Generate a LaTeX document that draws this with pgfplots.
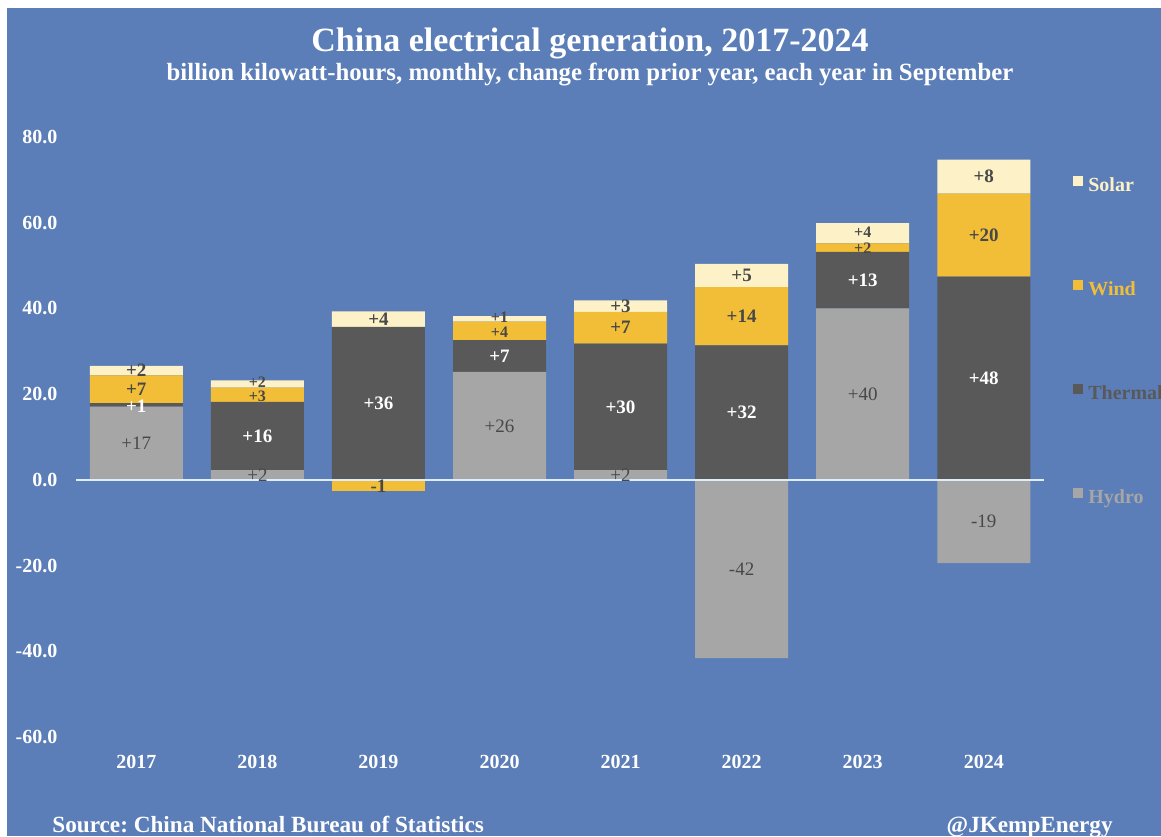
\documentclass[border=0pt]{standalone}
\usepackage{pgfplots}
\pgfplotsset{compat=1.18}
\usepackage{fontspec}
\setmainfont{Liberation Serif}
\frenchspacing
\definecolor{bg}{RGB}{91,126,184}
\definecolor{hydro}{RGB}{166,166,166}
\definecolor{thermal}{RGB}{89,89,89}
\definecolor{wind}{RGB}{243,190,55}
\definecolor{solar}{RGB}{253,241,199}
\definecolor{lbl}{RGB}{72,72,72}
\definecolor{zline}{RGB}{225,236,250}

\pgfplotsset{
  base/.style={
    scale only axis, width=484.25pt, height=300pt,
    at={(37.9pt,49.5pt)}, anchor=south west,
    xmin=-0.5, xmax=7.5, ymin=-60, ymax=80,
    axis line style={draw=none}, major tick length=0pt,
    clip=false,
  },
}
\tikzset{
  hl/.style={text=lbl, font=\fontsize{9.5}{11}\selectfont},
  tl/.style={text=white, font=\fontsize{9.5}{11}\selectfont\bfseries},
  wl/.style={text=lbl, font=\fontsize{9.5}{11}\selectfont\bfseries},
  sl/.style={text=lbl, font=\fontsize{9.5}{11}\selectfont\bfseries},
  small/.style={font=\fontsize{8}{9}\selectfont\bfseries, inner sep=0pt},
}

\begin{document}
\begin{tikzpicture}
\path[use as bounding box] (0,0) rectangle (580.5pt,418pt);
\clip (0,0) rectangle (580.5pt,418pt);
\fill[white] (0,0) rectangle (580.5pt,418pt);
\fill[bg] (3.5pt,0) rectangle (580.5pt,414pt);

\begin{scope}[shift={(0,418pt)}, x=0.5pt, y=-0.5pt]
  \node[anchor=base, text=white, font=\fontsize{17}{20}\selectfont\bfseries] at (590,52) {China electrical generation, 2017-2024};
  \node[anchor=base, text=white, font=\fontsize{12.4}{15}\selectfont\bfseries] at (590,81) {billion kilowatt-hours, monthly, change from prior year, each year in September};
  \node[anchor=base west, inner sep=0pt, text=white, font=\fontsize{11.6}{14}\selectfont\bfseries] at (52,832) {Source: China National Bureau of Statistics};
  \node[anchor=base east, inner sep=0pt, text=white, font=\fontsize{11.6}{14}\selectfont\bfseries] at (1113,832) {@JKempEnergy};
\end{scope}

% positive contributions
\begin{axis}[base, ybar stacked, bar width=46.5pt,
  xtick={0,...,7}, xticklabels={2017,2018,2019,2020,2021,2022,2023,2024},
  ytick={-60,-40,...,80},
  /pgf/number format/assume math mode=true,
  y tick label style={/pgf/number format/fixed, /pgf/number format/fixed zerofill, /pgf/number format/precision=1},
  tick label style={font=\fontsize{10}{12}\selectfont\bfseries, text=white, inner sep=0pt},
  yticklabel style={anchor=east, xshift=-9pt},
  xticklabel style={anchor=center, yshift=-12.5pt},
  reverse legend,
  legend cell align=left,
  legend style={at={(1.0296,0.935)}, anchor=north west, draw=none, fill=none,
    inner sep=0pt, row sep=42.5pt,
    nodes={inner sep=0pt, text height=7pt, text depth=2pt, font=\fontsize{10}{12}\selectfont\bfseries}},
]
\addplot[fill=hydro, draw=none, legend image code/.code={\fill[hydro] (0pt,0pt) rectangle (5pt,5pt); \path (7.5pt,0pt);}]
  coordinates {(0,17.1) (1,2.3) (2,0) (3,25.2) (4,2.3) (5,0) (6,40.0) (7,0)};
\addlegendentry{\textcolor{hydro}{Hydro}}
\addplot[fill=thermal, draw=none, legend image code/.code={\fill[thermal] (0pt,0pt) rectangle (5pt,5pt); \path (7.5pt,0pt);}]
  coordinates {(0,0.8) (1,15.9) (2,35.7) (3,7.4) (4,29.5) (5,31.4) (6,13.2) (7,47.4)};
\addlegendentry{\textcolor{thermal}{Thermal}}
\addplot[fill=wind, draw=none, legend image code/.code={\fill[wind] (0pt,0pt) rectangle (5pt,5pt); \path (7.5pt,0pt);}]
  coordinates {(0,6.5) (1,3.3) (2,0) (3,4.3) (4,7.4) (5,13.6) (6,2.0) (7,19.4)};
\addlegendentry{\textcolor{wind}{Wind}}
\addplot[fill=solar, draw=none, legend image code/.code={\fill[solar] (0pt,0pt) rectangle (5pt,5pt); \path (7.5pt,0pt);}]
  coordinates {(0,2.2) (1,1.7) (2,3.6) (3,1.3) (4,2.7) (5,5.4) (6,4.7) (7,7.9)};
\addlegendentry{\textcolor{solar}{Solar}}
\end{axis}

% negative contributions, zero line and all value labels
\begin{axis}[base, ybar, bar width=46.5pt, bar shift=0pt,
  xtick=\empty, ytick=\empty]
\addplot[fill=hydro, draw=none] coordinates {(5,-41.6) (7,-19.4)};
\addplot[fill=wind, draw=none] coordinates {(2,-2.5)};
\draw[zline, line width=1.2pt] (axis cs:-0.5,0) -- (axis cs:7.5,0);
\node[wl] at (axis cs:2,-1.4) {-1};
\node[hl] at (axis cs:5,-20.8) {-42};
\node[hl] at (axis cs:7,-9.7) {-19};
% 2017
\node[hl] at (axis cs:0,8.55) {+17};
\node[tl] at (axis cs:0,17.2) {+1};
\node[wl] at (axis cs:0,21.15) {+7};
\node[sl] at (axis cs:0,25.5) {+2};
% 2018
\node[hl] at (axis cs:1,1.0) {+2};
\node[tl] at (axis cs:1,10.25) {+16};
\node[wl,small] at (axis cs:1,19.4) {+3};
\node[sl,small] at (axis cs:1,22.9) {+2};
% 2019
\node[tl] at (axis cs:2,17.85) {+36};
\node[sl] at (axis cs:2,37.5) {+4};
% 2020
\node[hl] at (axis cs:3,12.6) {+26};
\node[tl] at (axis cs:3,28.9) {+7};
\node[wl,small] at (axis cs:3,34.5) {+4};
\node[sl,small] at (axis cs:3,38.0) {+1};
% 2021
\node[hl] at (axis cs:4,1.0) {+2};
\node[tl] at (axis cs:4,17.05) {+30};
\node[wl] at (axis cs:4,35.5) {+7};
\node[sl] at (axis cs:4,40.55) {+3};
% 2022
\node[tl] at (axis cs:5,15.7) {+32};
\node[wl] at (axis cs:5,38.2) {+14};
\node[sl] at (axis cs:5,47.7) {+5};
% 2023
\node[hl] at (axis cs:6,20.0) {+40};
\node[tl] at (axis cs:6,46.6) {+13};
\node[wl,small] at (axis cs:6,54.1) {+2};
\node[sl,small] at (axis cs:6,57.8) {+4};
% 2024
\node[tl] at (axis cs:7,23.7) {+48};
\node[wl] at (axis cs:7,57.1) {+20};
\node[sl] at (axis cs:7,70.75) {+8};
\end{axis}
\end{tikzpicture}
\end{document}
